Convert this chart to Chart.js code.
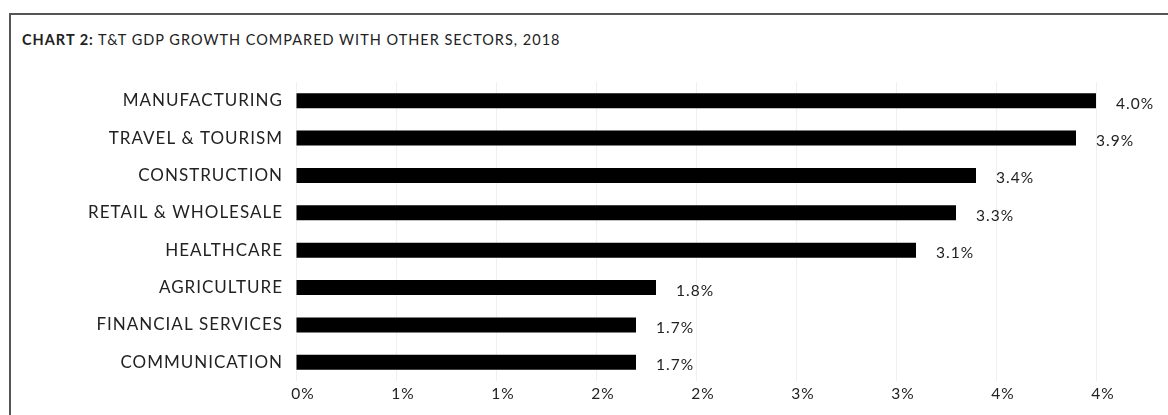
<!DOCTYPE html>
<html>
<head>
<meta charset="utf-8">
<script src="https://cdn.jsdelivr.net/npm/chart.js@4"></script>
<style>
    body { margin: 0; background: #fff; }
    #wrap { position: relative; width: 1168px; height: 415px; overflow: hidden; }
    #frame {
        position: absolute; left: 9px; top: 13px; right: -4px; bottom: -4px;
        border-top: 2px solid #555; border-left: 2px solid #555;
    }
    #title {
        position: absolute; left: 22px; top: 31px;
        font-family: Lato, sans-serif; font-size: 14.5px; color: #222;
        letter-spacing: 1px; white-space: nowrap;
    }
    #chart { position: absolute; left: 0; top: 0; }
</style>
</head>
<body>
<div id="wrap">
    <div id="frame"></div>
    <div id="title"><b>CHART 2:</b> T&amp;T GDP GROWTH COMPARED WITH OTHER SECTORS, 2018</div>
    <canvas id="chart" width="1168" height="415"></canvas>
</div>
<script>
const sectors = ["MANUFACTURING", "TRAVEL & TOURISM", "CONSTRUCTION", "RETAIL & WHOLESALE",
    "HEALTHCARE", "AGRICULTURE", "FINANCIAL SERVICES", "COMMUNICATION"];
const growth = [4.0, 3.9, 3.4, 3.3, 3.1, 1.8, 1.7, 1.7];
const tickLabels = ["0%", "1%", "1%", "2%", "2%", "3%", "3%", "4%", "4%"];

const FONT = "Lato, sans-serif";

// a little extra tracking on all canvas text (set again after the canvas is sized)
const tracking = {
    id: "tracking",
    beforeUpdate(chart) { chart.ctx.letterSpacing = "1px"; },
    beforeDraw(chart) { chart.ctx.letterSpacing = "1px"; }
};

// writes "x.x%" just past the end of every bar
const valueLabels = {
    id: "valueLabels",
    afterDatasetsDraw(chart) {
        const ctx = chart.ctx;
        const meta = chart.getDatasetMeta(0);
        ctx.save();
        ctx.font = "15.5px " + FONT;
        ctx.fillStyle = "#222";
        ctx.textBaseline = "middle";
        meta.data.forEach((bar, i) => {
            ctx.fillText(growth[i].toFixed(1) + "%", bar.x + 20, bar.y + 3);
        });
        ctx.restore();
    }
};

new Chart(document.getElementById("chart"), {
    type: "bar",
    data: {
        labels: sectors,
        datasets: [{
            data: growth,
            backgroundColor: "#000",
            borderWidth: 0,
            barPercentage: 0.8,
            categoryPercentage: 0.5
        }]
    },
    options: {
        indexAxis: "y",
        responsive: false,
        animation: false,
        layout: { padding: { top: 82, right: 72, bottom: 0, left: 0 } },
        plugins: { legend: { display: false }, tooltip: { enabled: false } },
        scales: {
            x: {
                min: 0,
                max: 4,
                afterFit(scale) { scale.height = 34; },
                ticks: {
                    stepSize: 0.5,
                    labelOffset: 7,
                    padding: 4,
                    color: "#222",
                    font: { family: FONT, size: 15.5 },
                    callback: (v, i) => tickLabels[i]
                },
                grid: { color: "#efefef", drawTicks: false },
                border: { display: false }
            },
            y: {
                afterFit(scale) { scale.width = 296; },
                ticks: {
                    padding: 13,
                    color: "#222",
                    font: { family: FONT, size: 17 }
                },
                grid: { display: false, drawTicks: false },
                border: { display: false }
            }
        }
    },
    plugins: [tracking, valueLabels]
});
</script>
</body>
</html>
